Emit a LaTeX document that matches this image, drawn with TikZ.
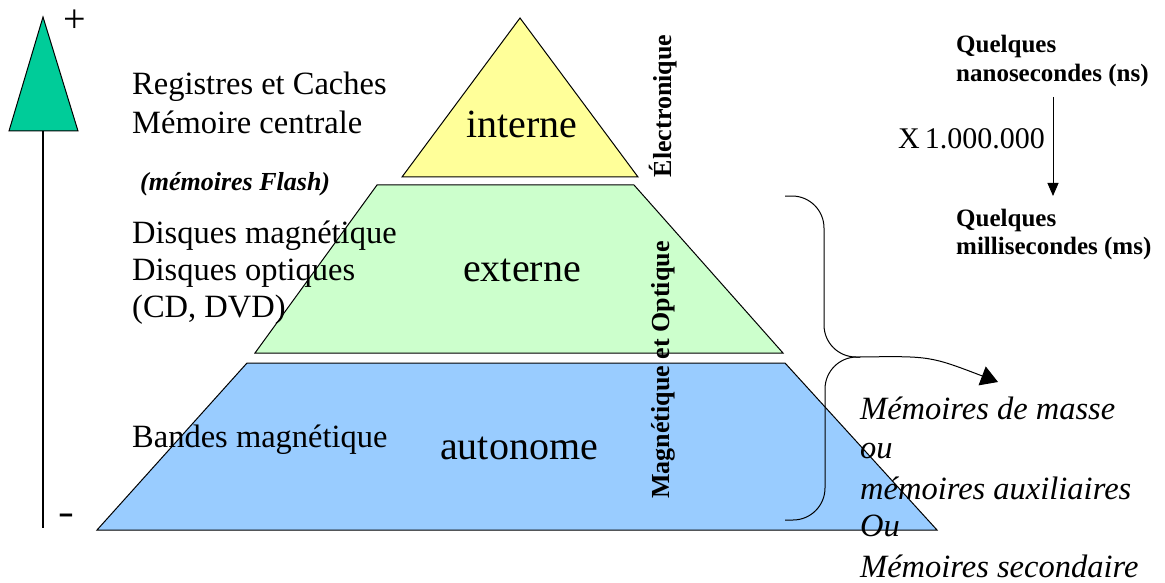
\documentclass[tikz,border=0pt]{standalone}
\usepackage{fontspec}
\setmainfont{Liberation Serif}
\usetikzlibrary{arrows.meta}

\definecolor{flecheverte}{HTML}{00CC99}
\definecolor{jaune}{HTML}{FFFF99}
\definecolor{vertclair}{HTML}{CCFFCC}
\definecolor{bleuclair}{HTML}{99CCFF}

\tikzset{
  niveau/.style={draw=black, line width=1pt},
  gauche/.style={anchor=base west, inner sep=0pt, font=\fontsize{32.5}{34}\selectfont},
  droite/.style={anchor=base west, inner sep=0pt, font=\fontsize{32.5}{34}\selectfont\itshape},
  temps/.style={anchor=base west, inner sep=0pt, font=\fontsize{25}{27}\selectfont\bfseries},
  etage/.style={font=\fontsize{40}{42}\selectfont},
  techno/.style={rotate=90, inner sep=0pt, font=\fontsize{26}{28}\selectfont\bfseries},
}

\begin{document}
\begin{tikzpicture}[x=1pt, y=-1pt]
            \useasboundingbox (0,0) rectangle (1165,583);

            % Fleche d'echelle (+ / -)
            \draw[line width=1.2pt] (43,131) -- (43,528);
            \draw[fill=flecheverte, line width=1pt] (43,17) -- (78,131) -- (9,131) -- cycle;
            \node[inner sep=0pt, font=\fontsize{40}{40}\selectfont] (plus) at (75,21) {+};
            \node[inner sep=0pt, xscale=1.4, font=\fontsize{34}{34}\selectfont\bfseries] (moins) at (66,519) {-};

            % Les trois niveaux de la pyramide
            \draw[niveau, fill=jaune] (520,18) -- (638,177) -- (402,177) -- cycle;
            \draw[niveau, fill=vertclair] (377,185) -- (634,185) -- (783,353) -- (255,353) -- cycle;
            \draw[niveau, fill=bleuclair] (247,363) -- (785,363) -- (937,530) -- (97,530) -- cycle;

            \node[etage] (interne) at (522,124) {interne};
            \node[etage] (externe) at (522,270) {externe};
            \node[etage] (autonome) at (519,448) {autonome};

            % Technologies
            \node[techno] (electro) at (663,106) {Électronique};
            \node[techno] (magopt) at (663,370) {Magnétique et Optique};

            % Exemples a gauche
            \node[gauche] (registres) at (132,95) {Registres et Caches};
            \node[gauche] (centrale) at (132,134) {Mémoire centrale};
            \node[gauche, font=\fontsize{26}{27}\selectfont\bfseries\itshape] (flash) at (140,190) {(mémoires Flash)};
            \node[gauche] (dmag) at (132,243) {Disques magnétique};
            \node[gauche] (dopt) at (132,280) {Disques optiques};
            \node[gauche] (cddvd) at (132,317) {(CD, DVD)};
            \node[gauche] (bandes) at (132,447) {Bandes magnétique};

            % Accolade vers les memoires de masse
            \coordinate (haut) at (785,196);
            \coordinate (milieu) at (860,357);
            \coordinate (bas) at (785,520);
            \draw[line width=1pt, rounded corners=32pt] (haut) -- (824,196) -- (824,357) -- (milieu);
            \draw[line width=1pt, rounded corners=32pt] (milieu) -- (825,357) -- (825,520) -- (bas);
            \coordinate (pointe) at (998,382);
            \draw[line width=1pt, -{Triangle[length=17pt, width=20pt]}] (milieu) .. controls (930,356) .. (pointe);

            \node[droite] (masse) at (860,419) {Mémoires de masse};
            \node[droite] (ou1) at (860,458) {ou};
            \node[droite] (aux) at (860,499) {mémoires auxiliaires};
            \node[droite] (ou2) at (860,536) {Ou};
            \node[droite] (second) at (860,577) {Mémoires secondaire};

            % Temps d'acces
            \node[temps] (q1) at (956,53) {Quelques};
            \node[temps] (nano) at (956,82) {nanosecondes (ns)};
            \node[temps] (q2) at (956,226) {Quelques};
            \node[temps] (milli) at (956,254) {millisecondes (ms)};
            \coordinate (depart) at (1053,97);
            \coordinate (arrivee) at (1053,196);
            \draw[line width=1pt, -{Triangle[length=13pt, width=11pt]}] (depart) -- (arrivee);
            \node[anchor=base east, inner sep=0pt, font=\fontsize{30}{32}\selectfont] (facteur) at (1045,149) {X\,1.000.000};
\end{tikzpicture}
\end{document}
